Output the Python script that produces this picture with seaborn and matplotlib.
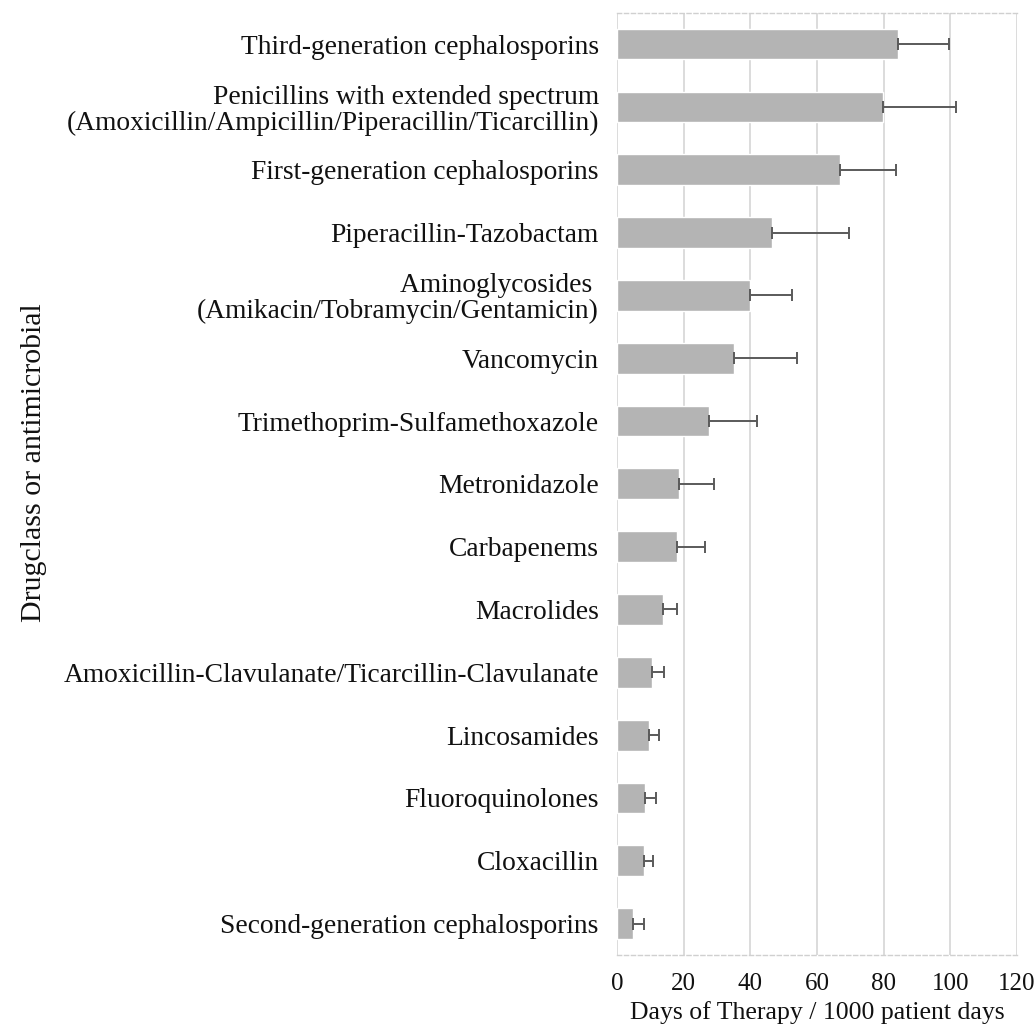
import numpy as np
import pandas as pd
import matplotlib
matplotlib.use("Agg")
import matplotlib.pyplot as plt
import seaborn as sns

drug_classes = [
    "Third-generation cephalosporins",
    "Penicillins with extended spectrum\n(Amoxicillin/Ampicillin/Piperacillin/Ticarcillin)",
    "First-generation cephalosporins",
    "Piperacillin-Tazobactam",
    "Aminoglycosides \n(Amikacin/Tobramycin/Gentamicin)",
    "Vancomycin",
    "Trimethoprim-Sulfamethoxazole",
    "Metronidazole",
    "Carbapenems",
    "Macrolides",
    "Amoxicillin-Clavulanate/Ticarcillin-Clavulanate",
    "Lincosamides",
    "Fluoroquinolones",
    "Cloxacillin",
    "Second-generation cephalosporins",
]
dot_mean = [84.4, 79.7, 67.0, 46.4, 39.9, 35.1, 27.7, 18.6, 18.1, 13.9, 10.6, 9.6, 8.5, 8.1, 4.9]
dot_sd = [15.1, 22.1, 16.7, 23.2, 12.6, 19.0, 14.3, 10.5, 8.3, 4.2, 3.4, 3.1, 3.1, 2.6, 3.2]
x_ticks = [0, 20, 40, 60, 80, 100, 120]

df = pd.DataFrame({"drug": drug_classes, "dot": dot_mean, "sd": dot_sd})

sns.set_theme(style="white")
plt.rcParams["font.family"] = ["Liberation Serif", "DejaVu Serif"]
plt.rcParams["text.color"] = "#111111"
plt.rcParams["axes.labelcolor"] = "#111111"
plt.rcParams["xtick.color"] = "#111111"
plt.rcParams["ytick.color"] = "#111111"

fig = plt.figure(figsize=(10.35, 10.29), dpi=100)
ax = fig.add_axes([0.596, 0.0719, 0.3866, 0.9158])

sns.barplot(data=df, x="dot", y="drug", orient="h", color="#b4b4b4",
            saturation=1, width=0.49, errorbar=None, ax=ax, zorder=2)

# one-sided (upper) error bars
ax.errorbar(df["dot"], np.arange(len(df)), xerr=[np.zeros(len(df)), df["sd"]],
            fmt="none", ecolor="#5a5a5a", elinewidth=1.4, capsize=4,
            capthick=1.4, zorder=3)

ax.set_xlim(0, 120)
ax.set_ylim(len(df) - 0.5, -0.5)
ax.set_xticks(x_ticks)
ax.set_xticklabels([str(t) for t in x_ticks], fontsize=18)
ax.grid(axis="x", color="#d9d9d9", linewidth=1.3, zorder=0)
ax.set_axisbelow(True)

for side in ["left", "right"]:
    ax.spines[side].set_visible(False)
for side in ["top", "bottom"]:
    ax.spines[side].set_visible(True)
    ax.spines[side].set_color("#d0d0d0")
    ax.spines[side].set_linestyle((0, (3, 2)))
    ax.spines[side].set_linewidth(1.0)

ax.tick_params(axis="both", length=0)
ax.tick_params(axis="y", pad=13, labelsize=19.8)
ax.tick_params(axis="x", pad=13)
for lab in ax.get_yticklabels():
    lab.set_multialignment("right")
    lab.set_linespacing(1.05)

ax.set_xlabel("Days of Therapy / 1000 patient days", fontsize=18.5)
ax.xaxis.set_label_coords(0.5, -0.049)
ax.set_ylabel("Drugclass or antimicrobial", fontsize=21.5)
ax.yaxis.set_label_coords(-1.425, 0.523)

fig.savefig("out.png", dpi=100)
